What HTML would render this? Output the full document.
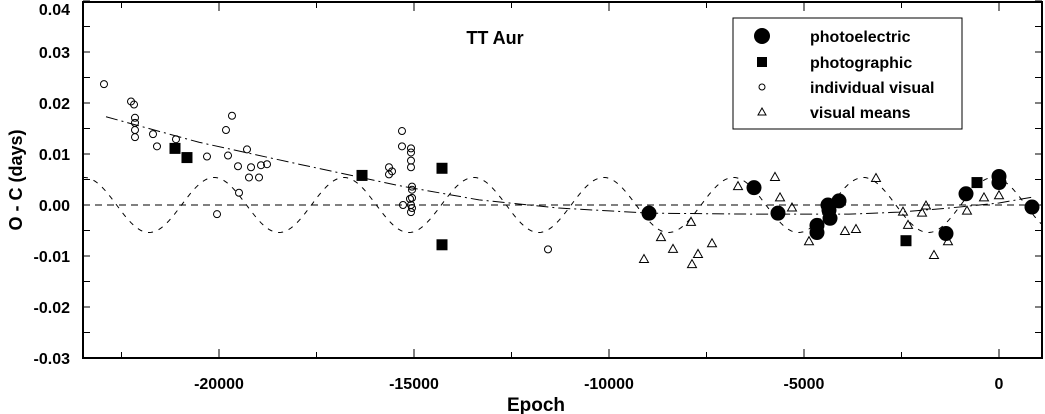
<!DOCTYPE html>
<html><head><meta charset="utf-8"><style>
body{margin:0;background:#fff}
svg{display:block;font-family:"Liberation Sans",Arial,sans-serif;font-weight:bold}
</style></head><body>
<svg id="chart" width="1045" height="414" viewBox="0 0 1045 414" xmlns="http://www.w3.org/2000/svg">
<rect x="0" y="0" width="1045" height="414" fill="#fff"/>
<g id="plot"></g>
<text x="495" y="44" font-size="18" text-anchor="middle">TT Aur</text>
<text x="536" y="411" font-size="19" text-anchor="middle">Epoch</text>
<text transform="translate(22,180) rotate(-90)" font-size="18" text-anchor="middle">O - C (days)</text>
<g>
<rect x="733" y="18" width="229" height="111" fill="#fff" stroke="#000" stroke-width="1"/>
<circle cx="762" cy="36" r="8" fill="#000"/>
<text x="810" y="42" font-size="16">photoelectric</text>
<rect x="757" y="57" width="10" height="10" fill="#000"/>
<text x="810" y="68" font-size="16">photographic</text>
<circle cx="762" cy="87" r="3" fill="none" stroke="#000"/>
<text x="810" y="93" font-size="16">individual visual</text>
<path d="M758,115 L762,108 L766,115 Z" fill="none" stroke="#000"/>
<text x="810" y="118" font-size="16">visual means</text>
</g>
</svg>
<script>
const xTicks=[-20000,-15000,-10000,-5000,0];
const xTickLabels=["-20000","-15000","-10000","-5000","0"];
const yTicks=[0.04,0.03,0.02,0.01,0,-0.01,-0.02,-0.03];
const yTickLabels=["0.04","0.03","0.02","0.01","0.00","-0.01","-0.02","-0.03"];
const visE=[-22949,-22256,-22179,-22154,-22154,-22154,-22154,-21692,-21590,-21103,-20308,-20051,-19821,-19667,-19769,-19513,-19282,-19179,-19231,-18974,-18923,-18769,-19487,-15308,-15308,-15077,-15077,-15077,-15077,-15641,-15641,-15564,-15051,-15051,-15103,-15282,-15077,-15051,-15077,-15051,-11564];
const visOC=[0.0237,0.0203,0.0197,0.0171,0.0161,0.0147,0.0133,0.0139,0.0115,0.0129,0.0095,-0.0018,0.0147,0.0175,0.0097,0.0076,0.0109,0.0074,0.0054,0.0054,0.0078,0.0080,0.0024,0.0145,0.0115,0.0111,0.0103,0.0087,0.0074,0.0074,0.0060,0.0066,0.0036,0.0030,0.0012,0.0000,0.0000,-0.0006,-0.0014,0.0014,-0.0087];
const photE=[-21128,-20821,-16333,-14282,-14282,-2385,-564];
const photOC=[0.0111,0.0093,0.0058,0.0072,-0.0078,-0.0070,0.0044];
const peE=[-8974,-6282,-5667,-4667,-4667,-4385,-4359,-4333,-4103,-1359,-846,0,0,846];
const peOC=[-0.0016,0.0034,-0.0016,-0.0040,-0.0054,0.0000,-0.0010,-0.0026,0.0008,-0.0056,0.0022,0.0056,0.0044,-0.0004];
const vmE=[-9103,-8667,-8359,-7897,-7718,-7872,-7359,-6692,-5744,-5615,-5308,-4872,-3949,-3667,-3154,-2462,-2333,-1872,-1974,-1667,-1308,-821,-385,0];
const vmOC=[-0.0105,-0.0062,-0.0085,-0.0032,-0.0095,-0.0115,-0.0074,0.0038,0.0056,0.0016,-0.0004,-0.0070,-0.0050,-0.0046,0.0054,-0.0012,-0.0038,0.0000,-0.0014,-0.0097,-0.0070,-0.0010,0.0016,0.0020];
const trendE=[-22897,-20513,-17949,-15385,-13333,-11282,-8974,-6154,-3846,-2564,-1282,0,897];
const trendOC=[0.0173,0.0123,0.0080,0.0038,0.0010,-0.0006,-0.0016,-0.0018,-0.0018,-0.0014,-0.0006,0.0004,0.0016];
const sineAmp=[0.0054];
const sinePeriod=[3330];
const sinePeak=[-20128];

const NS="http://www.w3.org/2000/svg";
const L=83,R=1042,T=2,B=358;
function X(e){return 999+e*0.039;}
function Y(v){return 205-v*5100;}
const g=document.getElementById('plot');
function mk(tag,attrs){const el=document.createElementNS(NS,tag);for(const k in attrs)el.setAttribute(k,attrs[k]);g.appendChild(el);return el;}

let el=mk('line',{x1:L,x2:R,y1:Y(0),y2:Y(0),stroke:'#000','stroke-width':1,'stroke-dasharray':'7,5'});



let pts=[];
for(let px=L;px<=R;px+=2){const e=(px-999)/0.039;pts.push(px+','+Y(sineAmp[0]*Math.cos(2*Math.PI*(e-sinePeak[0])/sinePeriod[0])).toFixed(1));}
el=mk('polyline',{points:pts.join(' '),fill:'none',stroke:'#000','stroke-width':1,'stroke-dasharray':'5,6'});



el=mk('polyline',{points:trendE.map((e,i)=>X(e)+','+Y(trendOC[i])).join(' '),fill:'none',stroke:'#000','stroke-width':1,'stroke-dasharray':'12,4,2,4'});



visE.forEach((e,i)=>{const c=mk('circle',{cx:X(e),cy:Y(visOC[i]),r:3.5,fill:'none',stroke:'#000','stroke-width':1});

});
vmE.forEach((e,i)=>{const x=X(e),y=Y(vmOC[i]);const p=mk('path',{d:`M${x-4.5},${y+4} L${x},${y-4} L${x+4.5},${y+4} Z`,fill:'none',stroke:'#000','stroke-width':1});

});
photE.forEach((e,i)=>{const r=mk('rect',{x:X(e)-5.5,y:Y(photOC[i])-5.5,width:11,height:11,fill:'#000'});

});
peE.forEach((e,i)=>{const c=mk('circle',{cx:X(e),cy:Y(peOC[i]),r:7.5,fill:'#000'});

});

el=mk('rect',{x:L,y:T,width:R-L,height:B-T,fill:'none',stroke:'#000','stroke-width':2});


for(let e=-22500;e<=0;e+=2500){const x=X(e);const len=(e%5000===0)?9:6;
 let t=mk('line',{x1:x,x2:x,y1:B,y2:B-len,stroke:'#000'});
 t=mk('line',{x1:x,x2:x,y1:T,y2:T+len,stroke:'#000'});}
xTicks.forEach((e,i)=>{const t=mk('text',{x:X(e),y:389,'font-size':16,'text-anchor':'middle'});t.textContent=xTickLabels[i];

});
for(let k=-6;k<=8;k++){const v=k*0.005;const y=Y(v);
 let t=mk('line',{x1:L,x2:L+7,y1:y,y2:y,stroke:'#000'});
 t=mk('line',{x1:R,x2:R-7,y1:y,y2:y,stroke:'#000'});}
yTicks.forEach((v,i)=>{const t=mk('text',{x:70,y:Math.max(15,Y(v)+6),'font-size':16,'text-anchor':'end'});t.textContent=yTickLabels[i];

});
</script>
</body></html>
